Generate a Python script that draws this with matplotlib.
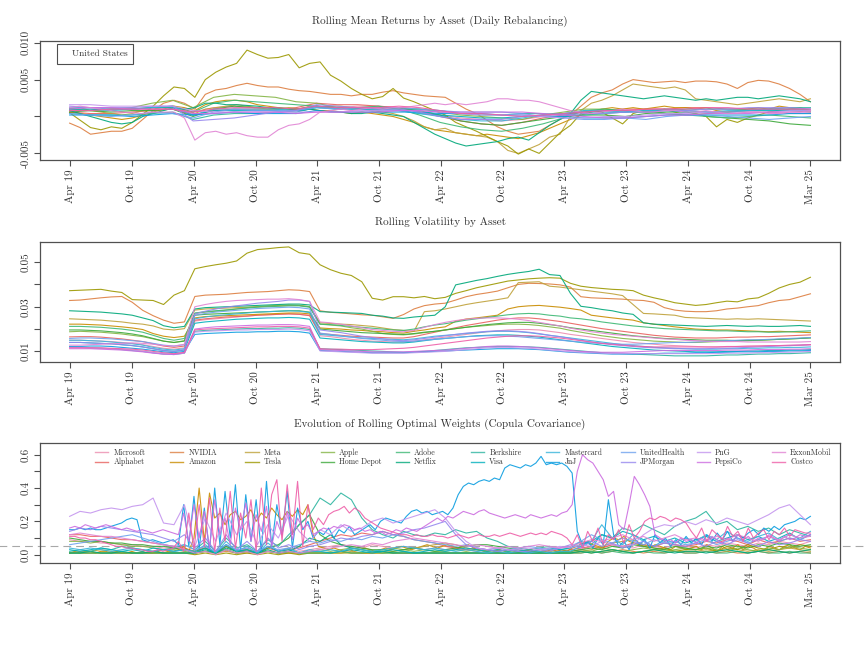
import numpy as np
import pandas as pd
import matplotlib
matplotlib.use("Agg")
import matplotlib.pyplot as plt
from matplotlib.lines import Line2D
from matplotlib.legend import Legend

plt.rcParams['font.family'] = ['cmr10', 'DejaVu Serif']
plt.rcParams['axes.unicode_minus'] = False
plt.rcParams['axes.formatter.use_mathtext'] = True

start = pd.Timestamp('2019-04-01')
end = pd.Timestamp('2025-03-28')

assets = ['Microsoft', 'Alphabet', 'NVIDIA', 'Amazon', 'Meta', 'Tesla', 'Apple',
          'Home Depot', 'Adobe', 'Netflix', 'Berkshire', 'Visa', 'Mastercard', 'JnJ',
          'UnitedHealth', 'JPMorgan', 'PnG', 'PepsiCo', 'ExxonMobil', 'Costco']
colors = ['#EC8DB0', '#E8615E', '#DD7E40', '#C98C00', '#BFA13A', '#9C9800', '#84B545',
          '#3CA83A', '#3DB874', '#00A87A', '#2DB5A0', '#00AFBC', '#38B5DA', '#0A9DE0',
          '#6EA2EE', '#9687EE', '#C495EE', '#CC6DE0', '#E184D4', '#EE5FA8']

# ---- rolling mean returns, units of 1e-4 (monthly or bi-monthly readings) ----
ret_msft = [8, 9, 10, 10, 12, 14, 6, 12, 14, 12, 12, 10, 14, 12, 14, 14, 12, 6, 2, -2, -4, -6, -4, 0,
            4, 6, 8, 8, 10, 10, 8, 6, 6, 6, 6, 4, 4]
ret_googl = [6, 4, 4, 6, 8, 10, 2, 8, 10, 10, 10, 12, 18, 16, 16, 14, 12, 6, 0, -6, -10, -12, -8, -2,
             2, 6, 8, 10, 10, 10, 12, 12, 10, 10, 10, 10, 8]
ret_nvda = [-9, -15, -24, -22, -20, -20, -16, -4, 8, 18, 22, 18,
            10, 30, 36, 38, 42, 45, 42, 40, 40, 37, 35, 34,
            32, 30, 30, 28, 30, 30, 33, 35, 32, 30, 28, 27,
            26, 18, 10, 4, -5, -14, -20, -24, -22, -20, -12, -4,
            2, 14, 26, 32, 36, 44, 50, 48, 46, 47, 48, 46,
            48, 48, 47, 44, 38, 46, 49, 48, 44, 38, 30, 20]
ret_amzn = [6, 4, 2, 0, -2, -4, -2, 2, 6, 10, 14, 12,
            8, 16, 20, 22, 22, 20, 16, 14, 12, 10, 8, 10,
            8, 8, 6, 4, 6, 4, 2, 0, -4, -8, -14, -18,
            -20, -22, -24, -26, -24, -26, -28, -30, -26, -22, -16, -10,
            -4, 2, 6, 10, 12, 10, 12, 10, 12, 14, 12, 12,
            10, 12, 8, 6, 8, 10, 12, 10, 14, 12, 10, 8]
ret_meta = [10, 12, 8, 6, 4, 2, 4, 8, 10, 12, 14, 8,
            4, 10, 12, 14, 16, 14, 12, 10, 10, 12, 10, 14,
            12, 14, 14, 12, 10, 8, 6, 4, 0, -6, -14, -18,
            -16, -22, -24, -26, -28, -34, -46, -50, -44, -38, -28, -24,
            0, 8, 18, 22, 28, 36, 44, 42, 40, 38, 40, 36,
            24, 22, 20, 18, 16, 18, 20, 22, 24, 22, 20, 24]
ret_tsla = [5, -5, -15, -18, -14, -16, -8, 3, 14, 28, 40, 38,
            26, 50, 60, 67, 72, 90, 84, 79, 80, 84, 66, 72,
            74, 56, 48, 38, 30, 24, 27, 38, 25, 20, 14, 8,
            2, -8, -14, -20, -27, -34, -40, -51, -44, -50, -36, -22,
            -12, 4, 8, 6, -2, -10, 4, 8, 6, 10, 6, 2,
            4, 0, -14, -4, -8, -2, 2, 6, 8, 10, 12, 8]
ret_aapl = [10, 8, 10, 12, 18, 22, 12, 26, 30, 28, 26, 20, 18, 12, 12, 10, 12, 10, 6, 2, 0, -2, -4, 2,
            6, 10, 10, 8, 6, 4, 2, 4, 6, 8, 10, 8, 6]
ret_hd = [6, 8, 6, 8, 8, 10, 0, 10, 14, 12, 12, 10, 14, 12, 10, 10, 12, 8, 2, -6, -10, -12, -8, -4,
          0, 2, 2, 0, 4, 6, 6, 0, -2, -4, -6, -10, -12]
ret_adbe = [10, 8, 10, 10, 12, 14, 6, 18, 22, 20, 18, 16, 14, 10, 12, 14, 10, 2, -8, -14, -18, -20, -16, -10,
            -2, 8, 10, 8, 6, 4, 2, 0, -2, 0, 2, 0, -2]
ret_nflx = [8, 4, 0, -4, -8, -10, -8, 0, 4, 8, 12, 10,
            12, 18, 18, 16, 16, 15, 14, 12, 10, 10, 8, 10,
            8, 6, 6, 4, 4, 6, 4, 2, 0, -8, -16, -24,
            -30, -36, -40, -38, -36, -34, -30, -28, -32, -22, -12, -4,
            4, 22, 34, 32, 30, 28, 26, 24, 26, 28, 26, 24,
            22, 24, 22, 24, 26, 26, 24, 26, 28, 26, 24, 20]
ret_brk = [4, 2, 2, 2, 4, 6, -4, 2, 4, 4, 6, 8, 14, 12, 10, 10, 10, 10, 8, 4, 2, 2, 4, 4,
           2, 2, 4, 6, 6, 8, 10, 10, 10, 10, 10, 12, 12]
ret_v = [10, 10, 8, 10, 12, 12, 2, 8, 8, 8, 8, 6, 12, 10, 10, 8, 8, 4, 2, 0, -2, -2, 0, 2,
         4, 6, 6, 6, 8, 8, 6, 6, 6, 8, 8, 8, 8]
ret_ma = [12, 12, 10, 10, 12, 14, 2, 10, 10, 10, 10, 8, 14, 10, 10, 10, 8, 4, 0, -4, -6, -6, -2, 2,
          4, 8, 8, 6, 8, 10, 8, 6, 8, 8, 10, 10, 10]
ret_jnj = [2, 2, 2, 0, 2, 4, 2, 4, 6, 4, 4, 4, 8, 6, 6, 6, 6, 6, 4, 4, 4, 2, 2, 0,
           0, -2, -2, -2, 0, 2, 2, 2, 2, 2, 2, 4, 4]
ret_unh = [4, 2, 0, 2, 6, 4, -2, 6, 10, 8, 8, 8, 12, 10, 12, 12, 12, 10, 8, 6, 6, 6, 4, 0,
           -2, -4, -4, -2, -4, 0, 2, 2, 0, -2, -4, -2, 0]
ret_jpm = [14, 12, 12, 12, 14, 14, -6, -4, -2, 2, 6, 8, 16, 14, 12, 10, 10, 6, 0, -4, -4, -4, 0, 2,
           2, 4, 4, 6, 6, 8, 8, 10, 10, 12, 12, 12, 10]
ret_pg = [16, 16, 14, 14, 14, 14, 8, 6, 6, 6, 6, 6, 6, 6, 8, 8, 8, 8, 6, 4, 2, 2, 2, 0,
          -2, -2, 0, 0, 2, 4, 4, 6, 6, 6, 6, 8, 8]
ret_pep = [10, 12, 12, 10, 10, 10, 4, 4, 6, 6, 6, 4, 6, 6, 6, 6, 8, 8, 6, 6, 6, 6, 6, 4,
           2, 0, -2, -2, 0, 2, 2, 4, 4, 4, 6, 6, 6]
ret_xom = [12, 14, 12, 10, 8, 6, 5, 4, 6, 6, 6, -2,
           -32, -22, -20, -24, -22, -26, -28, -28, -18, -12, -10, -4,
           6, 8, 10, 8, 10, 12, 10, 12, 12, 14, 16, 18,
           16, 18, 16, 18, 20, 24, 24, 22, 22, 20, 16, 12,
           8, 6, 4, 6, 8, 10, 8, 6, 6, 8, 8, 6,
           6, 8, 6, 4, 4, 6, 6, 4, 4, 6, 6, 8]
ret_cost = [8, 8, 10, 10, 10, 10, 6, 10, 12, 12, 12, 10, 14, 12, 12, 12, 14, 12, 8, 4, 4, 2, 0, 2,
            4, 6, 8, 8, 10, 10, 10, 12, 12, 10, 10, 10, 10]

# ---- rolling volatility, units of 1e-4, monthly ----
vol_msft = [150, 150, 148, 146, 144, 140, 136, 130, 122, 114, 110, 116,
            236, 242, 246, 250, 254, 258, 262, 264, 266, 268, 266, 262,
            170, 166, 160, 154, 150, 146, 144, 142, 142, 146, 152, 158,
            164, 170, 176, 182, 188, 192, 196, 198, 198, 196, 190, 184,
            176, 170, 164, 158, 152, 146, 140, 136, 132, 128, 126, 124,
            122, 120, 120, 120, 122, 122, 124, 124, 126, 126, 128, 130]
vol_googl = [165, 166, 166, 164, 160, 156, 150, 144, 134, 124, 118, 124,
             240, 246, 250, 254, 256, 258, 262, 264, 266, 268, 266, 260,
             180, 176, 172, 168, 166, 164, 162, 160, 160, 166, 176, 186,
             196, 206, 216, 224, 232, 240, 246, 250, 250, 246, 240, 234,
             226, 218, 210, 202, 196, 190, 184, 178, 172, 168, 164, 162,
             160, 160, 160, 162, 164, 164, 166, 166, 168, 170, 172, 174]
vol_nvda = [328, 330, 335, 340, 344, 346, 320, 284, 260, 240, 226, 232,
            346, 352, 354, 356, 360, 364, 366, 368, 372, 376, 374, 368,
            282, 275, 272, 268, 264, 262, 255, 248, 265, 290, 305, 312,
            316, 330, 345, 355, 362, 370, 385, 400, 405, 404, 402, 398,
            388, 345, 340, 338, 336, 334, 330, 328, 320, 296, 285, 280,
            278, 278, 282, 290, 294, 300, 305, 318, 328, 332, 345, 358]
vol_amzn = [222, 222, 220, 218, 214, 210, 205, 198, 180, 168, 162, 168,
            250, 256, 258, 260, 262, 264, 266, 268, 270, 272, 272, 268,
            205, 202, 200, 196, 194, 190, 188, 184, 182, 190, 196, 204,
            210, 235, 245, 250, 256, 262, 290, 300, 304, 306, 302, 298,
            292, 285, 262, 256, 250, 245, 240, 228, 222, 216, 210, 205,
            200, 198, 196, 196, 194, 192, 190, 188, 190, 188, 186, 184]
vol_meta = [246, 244, 242, 240, 236, 232, 226, 222, 214, 200, 196, 202,
            285, 290, 292, 294, 296, 298, 300, 302, 304, 306, 306, 300,
            228, 225, 222, 220, 216, 212, 205, 198, 194, 190, 278, 282,
            290, 300, 310, 318, 325, 332, 340, 408, 410, 412, 392, 388,
            382, 376, 370, 364, 358, 350, 310, 270, 268, 265, 262, 252,
            250, 248, 246, 244, 246, 244, 246, 244, 242, 240, 238, 236]
vol_tsla = [372, 374, 376, 378, 370, 364, 332, 330, 328, 310, 352, 372,
            470, 480, 488, 495, 505, 540, 556, 560, 565, 568, 542, 535,
            488, 466, 450, 440, 412, 338, 330, 345, 345, 340, 346, 336,
            342, 360, 372, 385, 395, 405, 415, 420, 425, 428, 430, 428,
            405, 392, 386, 382, 378, 376, 372, 352, 340, 330, 318, 312,
            306, 310, 318, 325, 322, 335, 340, 360, 384, 400, 410, 432]
vol_aapl = [188, 190, 188, 186, 182, 178, 172, 166, 156, 146, 140, 148,
            270, 276, 280, 284, 290, 296, 300, 304, 306, 308, 306, 300,
            222, 218, 214, 206, 200, 190, 180, 176, 174, 178, 184, 190,
            196, 202, 208, 212, 216, 220, 222, 222, 220, 216, 210, 204,
            194, 186, 178, 170, 164, 158, 154, 150, 146, 144, 142, 140,
            140, 142, 144, 146, 148, 150, 150, 152, 154, 156, 158, 162]
vol_hd = [196, 196, 194, 192, 188, 184, 178, 170, 158, 146, 140, 146,
          262, 266, 268, 270, 272, 274, 276, 278, 280, 282, 282, 276,
          200, 196, 192, 188, 184, 182, 180, 178, 176, 180, 186, 190,
          196, 202, 208, 214, 220, 224, 228, 230, 230, 226, 220, 214,
          206, 200, 194, 188, 182, 176, 170, 166, 162, 158, 156, 154,
          152, 150, 150, 150, 148, 148, 150, 152, 154, 156, 158, 160]
vol_adbe = [212, 212, 210, 208, 204, 200, 194, 186, 172, 158, 150, 158,
            272, 278, 282, 286, 290, 294, 298, 300, 302, 304, 304, 298,
            222, 220, 216, 212, 208, 204, 200, 196, 194, 200, 210, 218,
            224, 232, 240, 246, 252, 258, 264, 268, 270, 268, 262, 258,
            250, 246, 240, 232, 226, 220, 214, 210, 206, 202, 200, 198,
            196, 194, 192, 192, 190, 188, 188, 186, 186, 188, 190, 192]
vol_nflx = [282, 280, 278, 276, 272, 268, 262, 250, 238, 215, 206, 212,
            290, 296, 298, 300, 302, 304, 306, 308, 310, 312, 312, 308,
            278, 276, 274, 272, 270, 262, 258, 250, 248, 254, 258, 262,
            300, 398, 408, 418, 426, 436, 445, 452, 458, 468, 444, 440,
            360, 302, 296, 288, 282, 272, 266, 228, 222, 220, 218, 216,
            214, 212, 214, 216, 214, 212, 214, 212, 212, 214, 216, 212]
vol_brk = [120, 118, 116, 114, 112, 108, 104, 100, 94, 88, 86, 92,
           190, 194, 196, 198, 200, 202, 202, 204, 204, 206, 204, 198,
           112, 110, 108, 106, 104, 102, 100, 98, 96, 98, 100, 104,
           108, 112, 116, 118, 120, 122, 122, 122, 120, 118, 114, 110,
           106, 102, 98, 94, 92, 90, 88, 86, 84, 82, 80, 80,
           80, 80, 82, 84, 84, 86, 88, 88, 90, 90, 92, 94]
vol_v = [140, 140, 138, 136, 134, 130, 126, 120, 112, 104, 100, 106,
         226, 232, 236, 240, 244, 246, 248, 250, 250, 252, 250, 244,
         160, 156, 152, 148, 144, 142, 140, 138, 138, 142, 148, 154,
         158, 162, 166, 170, 172, 174, 174, 172, 168, 164, 158, 152,
         146, 140, 134, 128, 122, 118, 114, 110, 106, 104, 102, 100,
         98, 98, 98, 100, 100, 102, 102, 104, 104, 106, 106, 108]
vol_ma = [150, 150, 148, 146, 142, 138, 134, 128, 118, 110, 106, 112,
          246, 254, 260, 264, 268, 272, 276, 278, 280, 282, 280, 274,
          176, 172, 168, 164, 160, 158, 156, 154, 152, 156, 162, 168,
          172, 176, 180, 184, 188, 190, 190, 188, 184, 178, 172, 166,
          160, 154, 148, 142, 136, 130, 126, 122, 118, 116, 114, 112,
          110, 110, 110, 112, 112, 114, 114, 116, 116, 118, 118, 120]
vol_jnj = [122, 122, 124, 124, 122, 118, 114, 110, 104, 98, 94, 100,
           176, 180, 182, 184, 186, 186, 188, 188, 190, 190, 188, 182,
           104, 102, 100, 98, 96, 94, 94, 94, 94, 96, 98, 100,
           102, 104, 106, 108, 110, 112, 112, 112, 110, 108, 104, 100,
           96, 94, 92, 90, 88, 88, 88, 90, 90, 92, 92, 92,
           94, 94, 96, 96, 98, 98, 98, 100, 100, 102, 102, 104]
vol_unh = [158, 160, 160, 158, 156, 152, 148, 144, 136, 128, 124, 130,
           262, 270, 276, 280, 284, 288, 292, 294, 296, 298, 296, 290,
           182, 176, 170, 164, 158, 154, 150, 146, 144, 146, 150, 154,
           158, 162, 166, 168, 170, 170, 168, 166, 162, 158, 154, 150,
           146, 142, 138, 136, 134, 132, 132, 134, 136, 138, 140, 140,
           142, 144, 146, 148, 150, 152, 152, 154, 156, 158, 160, 162]
vol_jpm = [140, 140, 138, 136, 134, 130, 126, 120, 112, 104, 100, 108,
           268, 280, 290, 298, 304, 310, 316, 320, 324, 330, 330, 324,
           196, 190, 184, 176, 168, 162, 156, 150, 148, 152, 158, 164,
           170, 176, 182, 186, 190, 192, 192, 190, 186, 180, 172, 166,
           158, 150, 142, 136, 130, 126, 122, 118, 116, 114, 112, 112,
           112, 112, 114, 114, 116, 118, 120, 122, 124, 126, 128, 130]
vol_pg = [118, 118, 116, 114, 112, 110, 106, 100, 94, 88, 86, 92,
          186, 190, 192, 194, 196, 196, 198, 198, 198, 200, 198, 192,
          102, 100, 98, 96, 94, 92, 92, 92, 92, 94, 96, 98,
          100, 104, 108, 112, 116, 118, 118, 116, 114, 110, 106, 102,
          98, 96, 94, 92, 90, 90, 90, 90, 90, 90, 90, 90,
          90, 90, 90, 92, 92, 92, 94, 94, 96, 96, 98, 100]
vol_pep = [112, 112, 112, 110, 108, 106, 102, 98, 92, 88, 86, 94,
           200, 206, 210, 212, 214, 216, 218, 218, 220, 220, 218, 212,
           108, 106, 104, 102, 100, 98, 98, 98, 98, 100, 102, 104,
           106, 110, 114, 118, 122, 124, 124, 122, 120, 116, 112, 108,
           104, 100, 98, 96, 96, 96, 98, 100, 102, 104, 104, 104,
           104, 104, 104, 106, 106, 106, 108, 108, 108, 110, 110, 112]
vol_xom = [128, 128, 130, 132, 134, 136, 138, 136, 132, 126, 124, 132,
           300, 310, 318, 324, 328, 330, 332, 334, 334, 336, 332, 324,
           232, 228, 222, 214, 206, 198, 194, 190, 188, 194, 208, 220,
           230, 238, 244, 248, 250, 250, 248, 244, 238, 230, 222, 214,
           204, 196, 188, 182, 176, 172, 168, 164, 160, 156, 154, 150,
           148, 146, 144, 144, 144, 142, 142, 142, 142, 142, 142, 144]
vol_cost = [116, 116, 116, 116, 114, 112, 110, 106, 100, 94, 90, 96,
            196, 200, 202, 204, 206, 208, 210, 210, 212, 212, 210, 204,
            112, 110, 110, 108, 108, 108, 110, 112, 114, 118, 124, 130,
            136, 142, 148, 154, 160, 164, 168, 170, 170, 168, 164, 160,
            154, 148, 142, 136, 132, 128, 124, 122, 120, 120, 120, 120,
            120, 120, 120, 122, 122, 124, 124, 126, 126, 128, 128, 130]

# ---- rolling optimal weights, percent (monthly; half-monthly for the busiest) ----
w_msft = [9, 8, 8, 7, 7, 6, 6, 5, 5, 4, 4, 3, 2, 5, 1, 6, 2, 4, 1, 5, 2, 4, 2, 3,
          4, 5, 6, 5, 4, 6, 5, 4, 5, 4, 3, 4, 3, 4, 3, 2, 3, 2, 3, 2, 1, 2, 1, 2,
          2, 3, 5, 4, 6, 5, 4, 6, 5, 4, 6, 5, 4, 6, 5, 7, 6, 5, 7, 6, 8, 7, 6, 8]
w_googl = [12, 12, 11, 11, 10, 9, 9, 8, 7, 6, 5, 4, 2, 4, 1, 5, 2, 3, 1, 4, 2, 3, 4, 6,
           8, 10, 12, 11, 13, 12, 14, 12, 11, 9, 8, 7, 5, 4, 3, 4, 3, 2, 3, 2, 3, 2, 3, 2,
           3, 4, 5, 4, 6, 5, 7, 6, 5, 7, 6, 5, 6, 8, 7, 9, 8, 6, 9, 7, 8, 10, 8, 9]
w_nvda = [1, 1, 1, 1, 1, 1, 1, 1, 1, 1, 1, 1, 1, 2, 1, 2, 1, 1, 1, 2, 1, 1, 1, 1,
          1, 1, 2, 1, 1, 1, 2, 1, 1, 1, 1, 1, 1, 1, 1, 1, 1, 1, 1, 1, 1, 1, 1, 1,
          1, 1, 2, 1, 2, 3, 2, 1, 2, 1, 2, 1, 1, 2, 1, 2, 1, 1, 2, 1, 2, 1, 2, 1]
w_amzn = [1, 2, 1, 2, 2, 1, 2, 2, 1, 2, 1, 1, 2, 1, 2, 1, 1, 2, 1, 2, 2, 3, 5, 2,
          10, 40, 8, 37, 22, 25, 18, 24, 26, 21, 23, 27, 20, 25, 22, 28, 24, 21, 26, 23, 27, 24, 30, 12,
          5, 4, 3, 4, 3, 2, 3, 2, 3, 4, 3, 2, 3, 4, 3, 4, 5, 4, 3, 4, 5, 6, 5, 4,
          5, 6, 5, 4, 5, 6, 4, 3, 2, 3, 2, 3, 2, 1, 2, 1, 2, 3, 2, 1, 2, 3, 2, 3,
          2, 4, 5, 7, 8, 6, 5, 4, 8, 10, 9, 11, 8, 7, 6, 5, 4, 6, 5, 4, 3, 5, 4, 3,
          4, 5, 3, 6, 4, 2, 5, 3, 4, 6, 3, 5, 4, 2, 3, 5, 4, 3, 5, 6, 4, 3, 5, 4]
w_meta = [1, 2, 2, 3, 2, 1, 1, 1, 1, 1, 1, 1, 1, 2, 1, 3, 1, 2, 1, 2, 1, 1, 1, 1,
          1, 1, 1, 2, 1, 1, 1, 2, 3, 4, 5, 6, 7, 6, 4, 3, 2, 1, 1, 1, 1, 1, 1, 1,
          1, 2, 3, 5, 7, 8, 9, 6, 4, 3, 2, 2, 2, 3, 2, 4, 3, 2, 3, 2, 3, 4, 3, 2]
w_tsla = [1, 1, 1, 1, 1, 1, 1, 1, 1, 1, 1, 1, 0, 1, 0, 1, 0, 1, 0, 1, 0, 1, 0, 1,
          1, 1, 1, 1, 1, 1, 1, 1, 1, 1, 1, 1, 1, 1, 1, 1, 1, 1, 1, 1, 1, 1, 1, 1,
          1, 2, 1, 2, 3, 2, 1, 2, 3, 4, 2, 3, 3, 4, 2, 5, 3, 6, 4, 3, 5, 4, 6, 5]
w_aapl = [8, 8, 7, 8, 7, 6, 5, 5, 4, 3, 3, 2, 1, 2, 1, 3, 1, 2, 1, 2, 1, 2, 1, 2,
          3, 2, 3, 4, 3, 2, 3, 4, 3, 2, 3, 2, 2, 3, 2, 3, 2, 3, 2, 1, 2, 1, 2, 1,
          2, 3, 2, 4, 3, 2, 3, 4, 3, 2, 3, 4, 3, 4, 3, 2, 4, 3, 2, 4, 3, 5, 4, 3]
w_hd = [10, 9, 8, 8, 7, 7, 6, 6, 5, 5, 4, 3, 2, 4, 1, 5, 2, 3, 1, 4, 6, 10, 18, 24,
        12, 8, 6, 5, 4, 3, 3, 2, 3, 4, 3, 2, 3, 4, 5, 6, 6, 5, 4, 3, 2, 2, 1, 2,
        2, 3, 4, 3, 5, 4, 6, 5, 4, 3, 5, 4, 3, 5, 4, 6, 5, 4, 6, 5, 7, 6, 5, 6]
w_adbe = [1, 1, 1, 1, 1, 1, 1, 1, 1, 1, 1, 1, 1, 2, 1, 3, 1, 2, 1, 2, 1, 2, 1, 1,
          1, 1, 2, 1, 1, 2, 1, 1, 2, 1, 1, 1, 1, 1, 1, 1, 1, 1, 1, 1, 1, 1, 1, 1,
          1, 1, 2, 1, 2, 1, 1, 2, 1, 1, 2, 1, 1, 2, 1, 1, 2, 1, 2, 1, 1, 2, 1, 1]
w_nflx = [1, 1, 2, 1, 1, 2, 1, 1, 2, 1, 1, 1, 1, 3, 1, 4, 2, 2, 1, 3, 1, 2, 5, 10,
          8, 12, 6, 4, 3, 2, 2, 1, 1, 1, 1, 1, 1, 1, 1, 1, 1, 1, 1, 1, 1, 1, 1, 1,
          1, 2, 1, 2, 3, 2, 1, 2, 3, 2, 1, 2, 2, 1, 2, 3, 2, 1, 2, 3, 2, 1, 2, 3]
w_brk = [2, 3, 2, 4, 3, 5, 4, 3, 2, 3, 4, 6, 3, 8, 2, 10, 4, 6, 2, 9, 5, 12, 18, 24,
         34, 30, 37, 33, 22, 15, 12, 10, 14, 12, 11, 13, 12, 15, 13, 14, 10, 8, 5, 4, 3, 4, 5, 3,
         4, 8, 6, 12, 10, 16, 14, 18, 15, 12, 17, 20, 22, 26, 18, 20, 15, 17, 14, 16, 12, 15, 13, 11]
w_v = [3, 2, 3, 4, 3, 2, 3, 2, 4, 3, 2, 3, 1, 4, 1, 6, 2, 3, 1, 5, 2, 3, 1, 2,
       2, 1, 2, 3, 2, 1, 2, 3, 2, 1, 2, 3, 2, 3, 4, 3, 2, 3, 2, 3, 2, 3, 4, 3,
       4, 6, 8, 12, 10, 14, 12, 9, 11, 8, 10, 7, 9, 11, 8, 10, 12, 9, 11, 8, 10, 13, 9, 12]
w_ma = [4, 3, 4, 3, 2, 3, 4, 3, 2, 3, 2, 3, 2, 6, 1, 8, 2, 5, 1, 7, 2, 4, 1, 3,
        2, 3, 2, 4, 3, 2, 3, 4, 5, 4, 3, 4, 3, 2, 3, 2, 1, 2, 1, 2, 1, 2, 1, 2,
        2, 5, 8, 18, 10, 6, 12, 8, 5, 9, 7, 10, 8, 12, 9, 14, 10, 8, 11, 13, 9, 12, 10, 14]
w_jnj = [15, 15, 16, 15, 16, 15, 15, 16, 17, 18, 19, 21, 22, 21, 9, 8, 9, 8, 7, 8, 9, 6, 30, 5,
         35, 4, 28, 2, 40, 6, 38, 10, 42, 3, 36, 8, 33, 2, 44, 5, 30, 12, 38, 4, 28, 15, 20, 10,
         14, 12, 16, 10, 15, 13, 17, 12, 14, 16, 18, 15, 20, 22, 21, 20, 19, 23, 26, 27, 25, 26, 24, 25,
         26, 24, 28, 36, 41, 43, 42, 44, 45, 44, 46, 45, 52, 54, 53, 52, 54, 53, 55, 59, 54, 55, 54, 55,
         53, 49, 14, 6, 8, 4, 10, 6, 33, 12, 5, 8, 3, 10, 6, 9, 4, 12, 7, 10, 5, 9, 6, 11,
         7, 10, 6, 12, 8, 13, 9, 14, 8, 12, 10, 13, 15, 12, 16, 14, 17, 15, 18, 19, 20, 22, 21, 23]
w_unh = [6, 7, 8, 9, 10, 11, 12, 10, 8, 6, 5, 6, 3, 5, 2, 6, 3, 4, 2, 5, 3, 4, 6, 8,
         7, 9, 8, 10, 9, 11, 10, 12, 11, 9, 8, 7, 6, 5, 6, 4, 3, 4, 3, 4, 5, 4, 3, 4,
         5, 8, 12, 9, 7, 10, 8, 6, 9, 7, 8, 6, 7, 9, 6, 8, 10, 7, 9, 11, 8, 10, 9, 12]
w_jpm = [14, 16, 15, 17, 16, 15, 14, 13, 12, 10, 8, 12, 4, 10, 2, 12, 3, 8, 2, 10, 4, 6, 3, 5,
         6, 8, 10, 9, 11, 12, 14, 12, 13, 15, 16, 18, 20, 12, 6, 4, 3, 2, 3, 2, 2, 3, 2, 4,
         6, 4, 8, 5, 7, 4, 6, 8, 5, 7, 6, 5, 7, 5, 8, 6, 9, 7, 5, 8, 6, 7, 9, 8]
w_pg = [23, 26, 25, 27, 28, 27, 29, 30, 34, 19, 18, 30, 5, 22, 8, 25, 12, 20, 6, 18, 10, 24, 14, 8,
        15, 12, 18, 14, 16, 20, 22, 19, 21, 23, 25, 27, 22, 14, 8, 4, 3, 4, 3, 3, 4, 3, 4, 5,
        4, 6, 5, 8, 6, 5, 6, 12, 16, 18, 17, 20, 18, 21, 19, 22, 20, 18, 21, 24, 28, 30, 24, 18]
w_pep = [16, 17, 16, 18, 17, 16, 17, 18, 17, 16, 15, 16, 15, 14, 15, 14, 13, 14, 15, 14, 13, 12, 25, 8,
         30, 10, 26, 4, 33, 12, 22, 6, 28, 15, 31, 8, 24, 14, 29, 5, 20, 12, 26, 9, 22, 16, 18, 12,
         14, 16, 15, 17, 16, 18, 17, 15, 16, 14, 15, 13, 14, 12, 13, 15, 14, 16, 15, 14, 16, 18, 20, 22,
         20, 23, 22, 24, 26, 25, 24, 26, 27, 25, 24, 23, 22, 23, 24, 23, 22, 24, 23, 22, 23, 24, 23, 25,
         26, 30, 50, 60, 57, 55, 50, 45, 35, 38, 18, 15, 30, 47, 42, 36, 29, 12, 10, 8, 9, 7, 10, 8,
         9, 7, 10, 8, 11, 9, 7, 10, 8, 12, 9, 11, 8, 10, 9, 12, 10, 8, 11, 9, 10, 12, 11, 12]
w_xom = [12, 13, 12, 11, 11, 10, 9, 8, 7, 6, 5, 3, 1, 2, 0, 3, 1, 2, 0, 2, 1, 2, 1, 2,
         3, 4, 5, 6, 5, 7, 6, 8, 9, 10, 9, 8, 7, 6, 5, 6, 5, 4, 5, 4, 5, 6, 5, 4,
         5, 7, 9, 8, 10, 12, 9, 11, 8, 10, 12, 9, 10, 8, 11, 9, 12, 10, 8, 11, 9, 12, 10, 11]
w_cost = [11, 11, 10, 10, 9, 9, 8, 7, 6, 5, 5, 4, 4, 3, 3, 2, 2, 3, 2, 3, 4, 8, 2, 25,
          3, 30, 5, 34, 2, 28, 8, 38, 4, 25, 10, 33, 2, 40, 6, 36, 45, 8, 42, 12, 44, 5, 30, 15,
          22, 18, 24, 26, 27, 29, 25, 28, 26, 22, 20, 18, 16, 15, 14, 13, 12, 12, 11, 12, 11, 11, 12, 11,
          11, 10, 11, 12, 11, 10, 11, 12, 11, 11, 12, 11, 12, 13, 12, 11, 12, 13, 12, 13, 12, 14, 13, 12,
          10, 6, 12, 4, 14, 8, 16, 6, 12, 9, 15, 7, 18, 10, 14, 20, 22, 21, 23, 22, 20, 22, 21, 19,
          14, 10, 16, 8, 15, 12, 9, 17, 11, 14, 8, 16, 10, 13, 15, 9, 14, 12, 16, 11, 15, 14, 13, 13]

returns = [ret_msft, ret_googl, ret_nvda, ret_amzn, ret_meta, ret_tsla, ret_aapl, ret_hd,
           ret_adbe, ret_nflx, ret_brk, ret_v, ret_ma, ret_jnj, ret_unh, ret_jpm, ret_pg,
           ret_pep, ret_xom, ret_cost]
vols = [vol_msft, vol_googl, vol_nvda, vol_amzn, vol_meta, vol_tsla, vol_aapl, vol_hd,
        vol_adbe, vol_nflx, vol_brk, vol_v, vol_ma, vol_jnj, vol_unh, vol_jpm, vol_pg,
        vol_pep, vol_xom, vol_cost]
weights = [w_msft, w_googl, w_nvda, w_amzn, w_meta, w_tsla, w_aapl, w_hd, w_adbe, w_nflx,
           w_brk, w_v, w_ma, w_jnj, w_unh, w_jpm, w_pg, w_pep, w_xom, w_cost]

tick_dates = list(pd.date_range('2019-04-01', '2024-10-01', freq='6MS')) + [end]
tick_labels = [d.strftime('%b %y') for d in tick_dates]
pad = (end - start) * 0.04
ink = '#333333'


def dates_for(vals):
    return pd.date_range(start, end, periods=len(vals))


def draw_lines(ax, series, scale):
    for vals, col in zip(series, colors):
        ax.plot(dates_for(vals), np.array(vals) * scale, color=col, lw=0.8, alpha=0.9)


def style_axis(ax, title, yticks, ylabels, ylim):
    ax.set_xlim(start - pad, end + pad)
    ax.set_ylim(ylim)
    ax.set_xticks(tick_dates)
    ax.set_xticklabels(tick_labels, rotation=90, fontsize=8)
    ax.set_yticks(yticks)
    ax.set_yticklabels(ylabels, rotation=90, va='center', fontsize=8)
    ax.tick_params(direction='out', length=4.5, width=0.8, color='#505050',
                   labelcolor=ink, pad=2)
    for s in ax.spines.values():
        s.set_color('#505050')
        s.set_linewidth(0.9)
    ax.set_title(title, fontsize=8, pad=12, color=ink)


fig = plt.figure(figsize=(8.68, 6.45), dpi=100)
ax1 = fig.add_axes([0.0461, 0.7519, 0.9217, 0.1845])
ax2 = fig.add_axes([0.0461, 0.4388, 0.9217, 0.1860])
ax3 = fig.add_axes([0.0461, 0.1271, 0.9217, 0.1860])

# panel 1
draw_lines(ax1, returns, 1e-4)
style_axis(ax1, 'Rolling Mean Returns by Asset (Daily Rebalancing)',
           [-0.005, 0.0, 0.005, 0.010], ['-0.005', '', '0.005', '0.010'], (-0.0059, 0.01023))
ax1.legend([Line2D([], [], linestyle='none')], ['United States'], loc='upper left',
           bbox_to_anchor=(0.021, 0.975), borderaxespad=0, fancybox=False, frameon=True,
           edgecolor='#222222', fontsize=6.8, handlelength=0.6, handletextpad=0.4,
           borderpad=0.6, labelcolor=ink).get_frame().set_linewidth(0.8)

# panel 2
draw_lines(ax2, vols, 1e-4)
style_axis(ax2, 'Rolling Volatility by Asset',
           [0.01, 0.02, 0.03, 0.04, 0.05], ['0.01', '', '0.03', '', '0.05'], (0.00526, 0.059))

# panel 3
ax3.axhline(1 / len(assets), xmin=-0.06, xmax=1.04, clip_on=False, color='#A8A8A8',
            lw=0.8, linestyle=(0, (7, 4.5)), zorder=1)
draw_lines(ax3, weights, 0.01)
style_axis(ax3, 'Evolution of Rolling Optimal Weights (Copula Covariance)',
           [0.0, 0.1, 0.2, 0.3, 0.4, 0.5, 0.6], ['0.0', '', '0.2', '', '0.4', '', '0.6'],
           (-0.05, 0.67))

# legend: 10 fixed-width columns of two entries each
for c in range(10):
    pair = [2 * c, 2 * c + 1]
    handles = [Line2D([], [], color=colors[i], lw=1.0, alpha=0.8) for i in pair]
    leg = Legend(ax3, handles, [assets[i] for i in pair], loc='upper left',
                 bbox_to_anchor=((55 + 75.2 * c) / 800, 0.955), frameon=False,
                 fontsize=5.6, handlelength=1.7, handletextpad=0.65,
                 labelspacing=0.15, borderpad=0, borderaxespad=0, labelcolor=ink)
    ax3.add_artist(leg)

fig.savefig('out.png', dpi=100)
